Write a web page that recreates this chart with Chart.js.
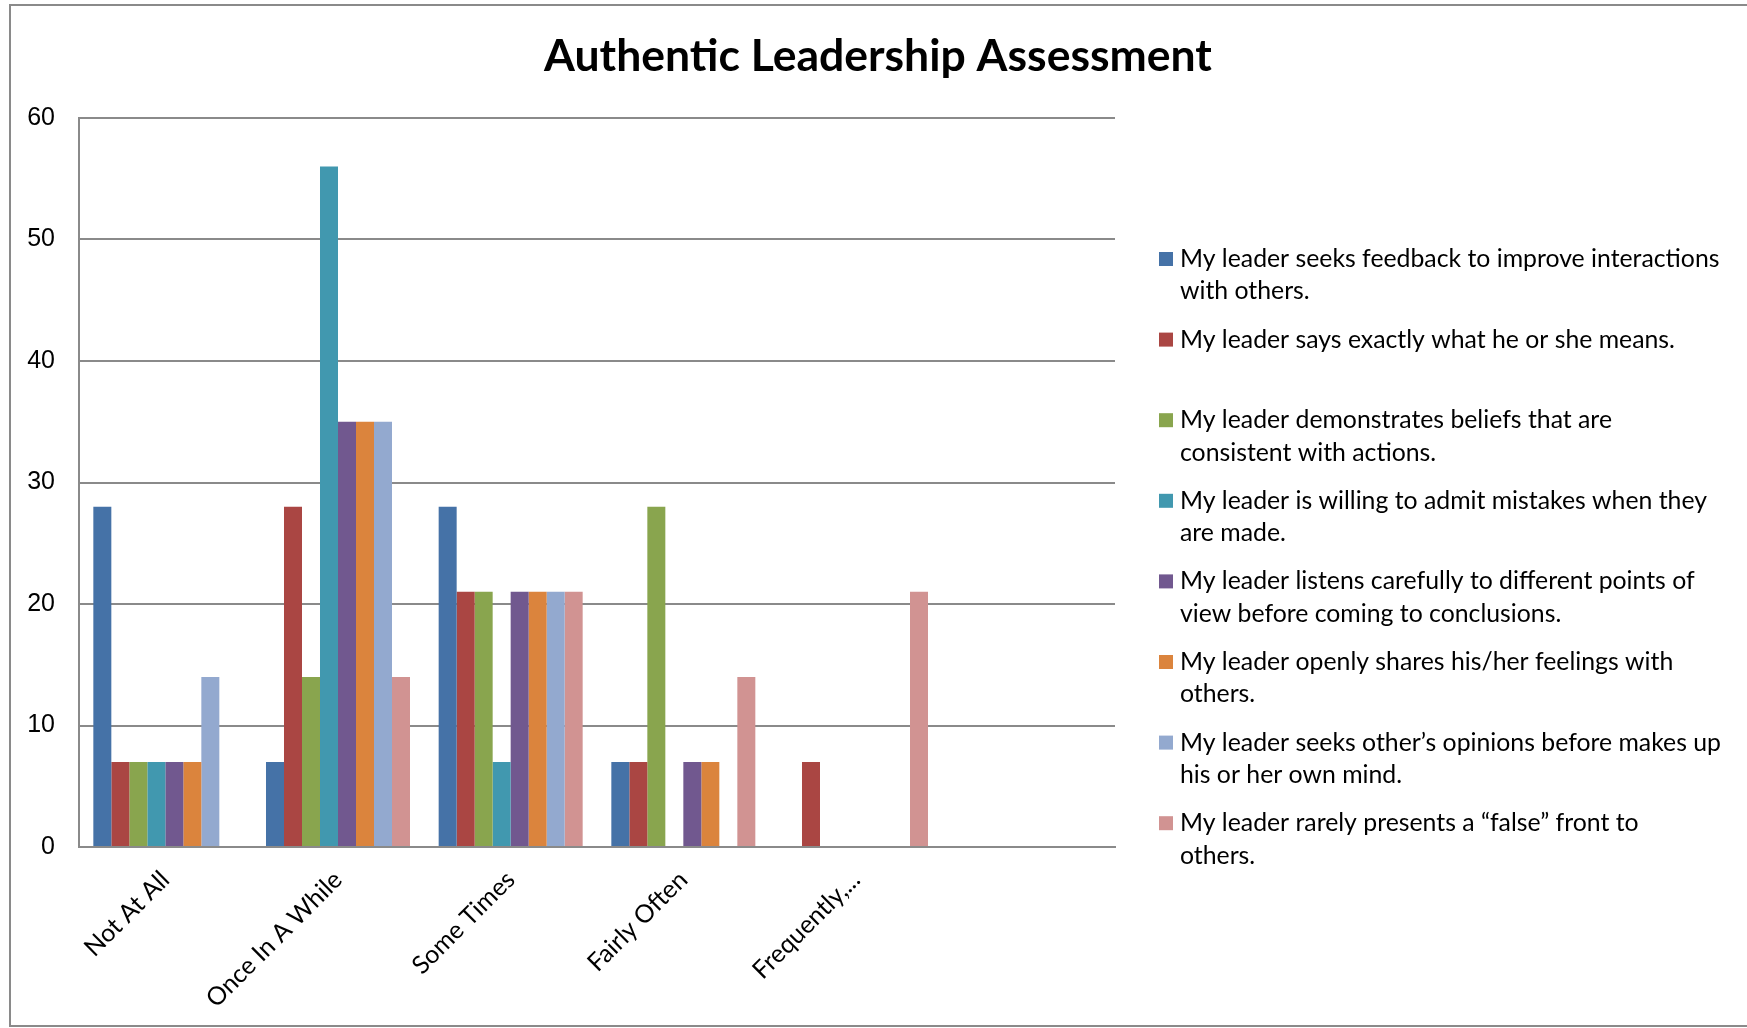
<!DOCTYPE html>
<html>
<head>
<meta charset="utf-8">
<title>Authentic Leadership Assessment</title>
<script src="https://cdn.jsdelivr.net/npm/chart.js@4/dist/chart.umd.min.js"></script>
<style>
  html, body { margin: 0; padding: 0; background: #fff; }
  #wrap { width: 1747px; height: 1028px; }
</style>
</head>
<body>
<div id="wrap"><canvas id="leadership" width="1747" height="1028"></canvas></div>
<script>
"use strict";

const chartTitle = "Authentic Leadership Assessment";
const categories = ["Not At All", "Once In A While", "Some Times", "Fairly Often", "Frequently,...", ""];
const yTicks = [0, 10, 20, 30, 40, 50, 60];

// legend text, already broken into the lines shown in the legend
const seriesNames = [
  ["My leader seeks feedback to improve interactions", "with others."],
  ["My leader says exactly what he or she means."],
  ["My leader demonstrates beliefs that are", "consistent with actions."],
  ["My leader is willing to admit mistakes when they", "are made."],
  ["My leader listens carefully to different points of", "view before coming to conclusions."],
  ["My leader openly shares his/her feelings with", "others."],
  ["My leader seeks other\u2019s opinions before makes up", "his or her own mind."],
  ["My leader rarely presents a \u201cfalse\u201d front to", "others."],
];

const seeksFeedback = [28, 7, 28, 7, 0, 0];
const saysWhatMeans = [7, 28, 21, 7, 7, 0];
const demonstratesBeliefs = [7, 14, 21, 28, 0, 0];
const admitsMistakes = [7, 56, 7, 0, 0, 0];
const listensCarefully = [7, 35, 21, 7, 0, 0];
const sharesFeelings = [7, 35, 21, 7, 0, 0];
const seeksOpinions = [14, 35, 21, 0, 0, 0];
const noFalseFront = [0, 14, 21, 14, 21, 0];

const seriesValues = [
  seeksFeedback, saysWhatMeans, demonstratesBeliefs, admitsMistakes,
  listensCarefully, sharesFeelings, seeksOpinions, noFalseFront,
];
const seriesColors = [
  "#4572A7", "#AA4643", "#89A54E", "#4198AF",
  "#71588F", "#DB843D", "#93A9CF", "#D19392",
];

const lineGrey = "#8a8a8a";

// frame round the whole picture, title on top, wrapped legend on the right
const decorations = {
  id: "decorations",
  beforeDraw(chart) {
    const ctx = chart.ctx;
    ctx.save();
    ctx.strokeStyle = lineGrey;
    ctx.lineWidth = 2;
    ctx.beginPath();
    ctx.moveTo(chart.width, 5);
    ctx.lineTo(10, 5);
    ctx.lineTo(10, 1026);
    ctx.lineTo(chart.width, 1026);
    ctx.stroke();
    ctx.restore();
  },
  afterDraw(chart) {
    const ctx = chart.ctx;
    ctx.save();
    ctx.fillStyle = "#000";
    ctx.font = "bold 44.5px Lato";
    ctx.textAlign = "center";
    ctx.textBaseline = "alphabetic";
    ctx.fillText(chartTitle, 878, 71);

    ctx.font = "24.8px Lato";
    ctx.textAlign = "left";
    ctx.textBaseline = "middle";
    chart.data.datasets.forEach((ds, i) => {
      const y = 259 + i * 80.6;
      ctx.fillStyle = ds.backgroundColor;
      ctx.fillRect(1159, y - 7, 14, 14);
      ctx.fillStyle = "#000";
      seriesNames[i].forEach((line, k) => {
        ctx.fillText(line, 1180, y + k * 32.5);
      });
    });
    ctx.restore();
  },
};

const leadershipChart = new Chart(document.getElementById("leadership"), {
  type: "bar",
  data: {
    labels: categories,
    datasets: seriesValues.map((values, i) => ({
      label: seriesNames[i].join(" "),
      data: values,
      backgroundColor: seriesColors[i],
      borderWidth: 0,
      categoryPercentage: 0.834,
      barPercentage: 1.0,
    })),
  },
  options: {
    responsive: false,
    animation: false,
    layout: {
      padding: { left: 0, top: 118, right: 632, bottom: 0 },
    },
    plugins: {
      legend: { display: false },
      title: { display: false },
      tooltip: { enabled: false },
    },
    scales: {
      x: {
        afterFit: (scale) => {
          scale.height = 1028 - 847;
        },
        grid: { display: false, drawTicks: false },
        border: { display: true, color: lineGrey, width: 2 },
        ticks: {
          autoSkip: false,
          minRotation: 45,
          maxRotation: 45,
          padding: 18,
          color: "#000",
          font: { family: "Lato", size: 25 },
        },
      },
      y: {
        min: 0,
        max: 60,
        afterFit: (scale) => {
          scale.width = 79;
        },
        afterBuildTicks: (scale) => {
          scale.ticks = yTicks.map((v) => ({ value: v }));
        },
        grid: { color: lineGrey, lineWidth: 2, drawTicks: false },
        border: { display: true, color: lineGrey, width: 2 },
        ticks: {
          padding: 24,
          color: "#000",
          font: { family: "'Liberation Sans', Arial", size: 25 },
        },
      },
    },
  },
  plugins: [decorations],
});
</script>
</body>
</html>
